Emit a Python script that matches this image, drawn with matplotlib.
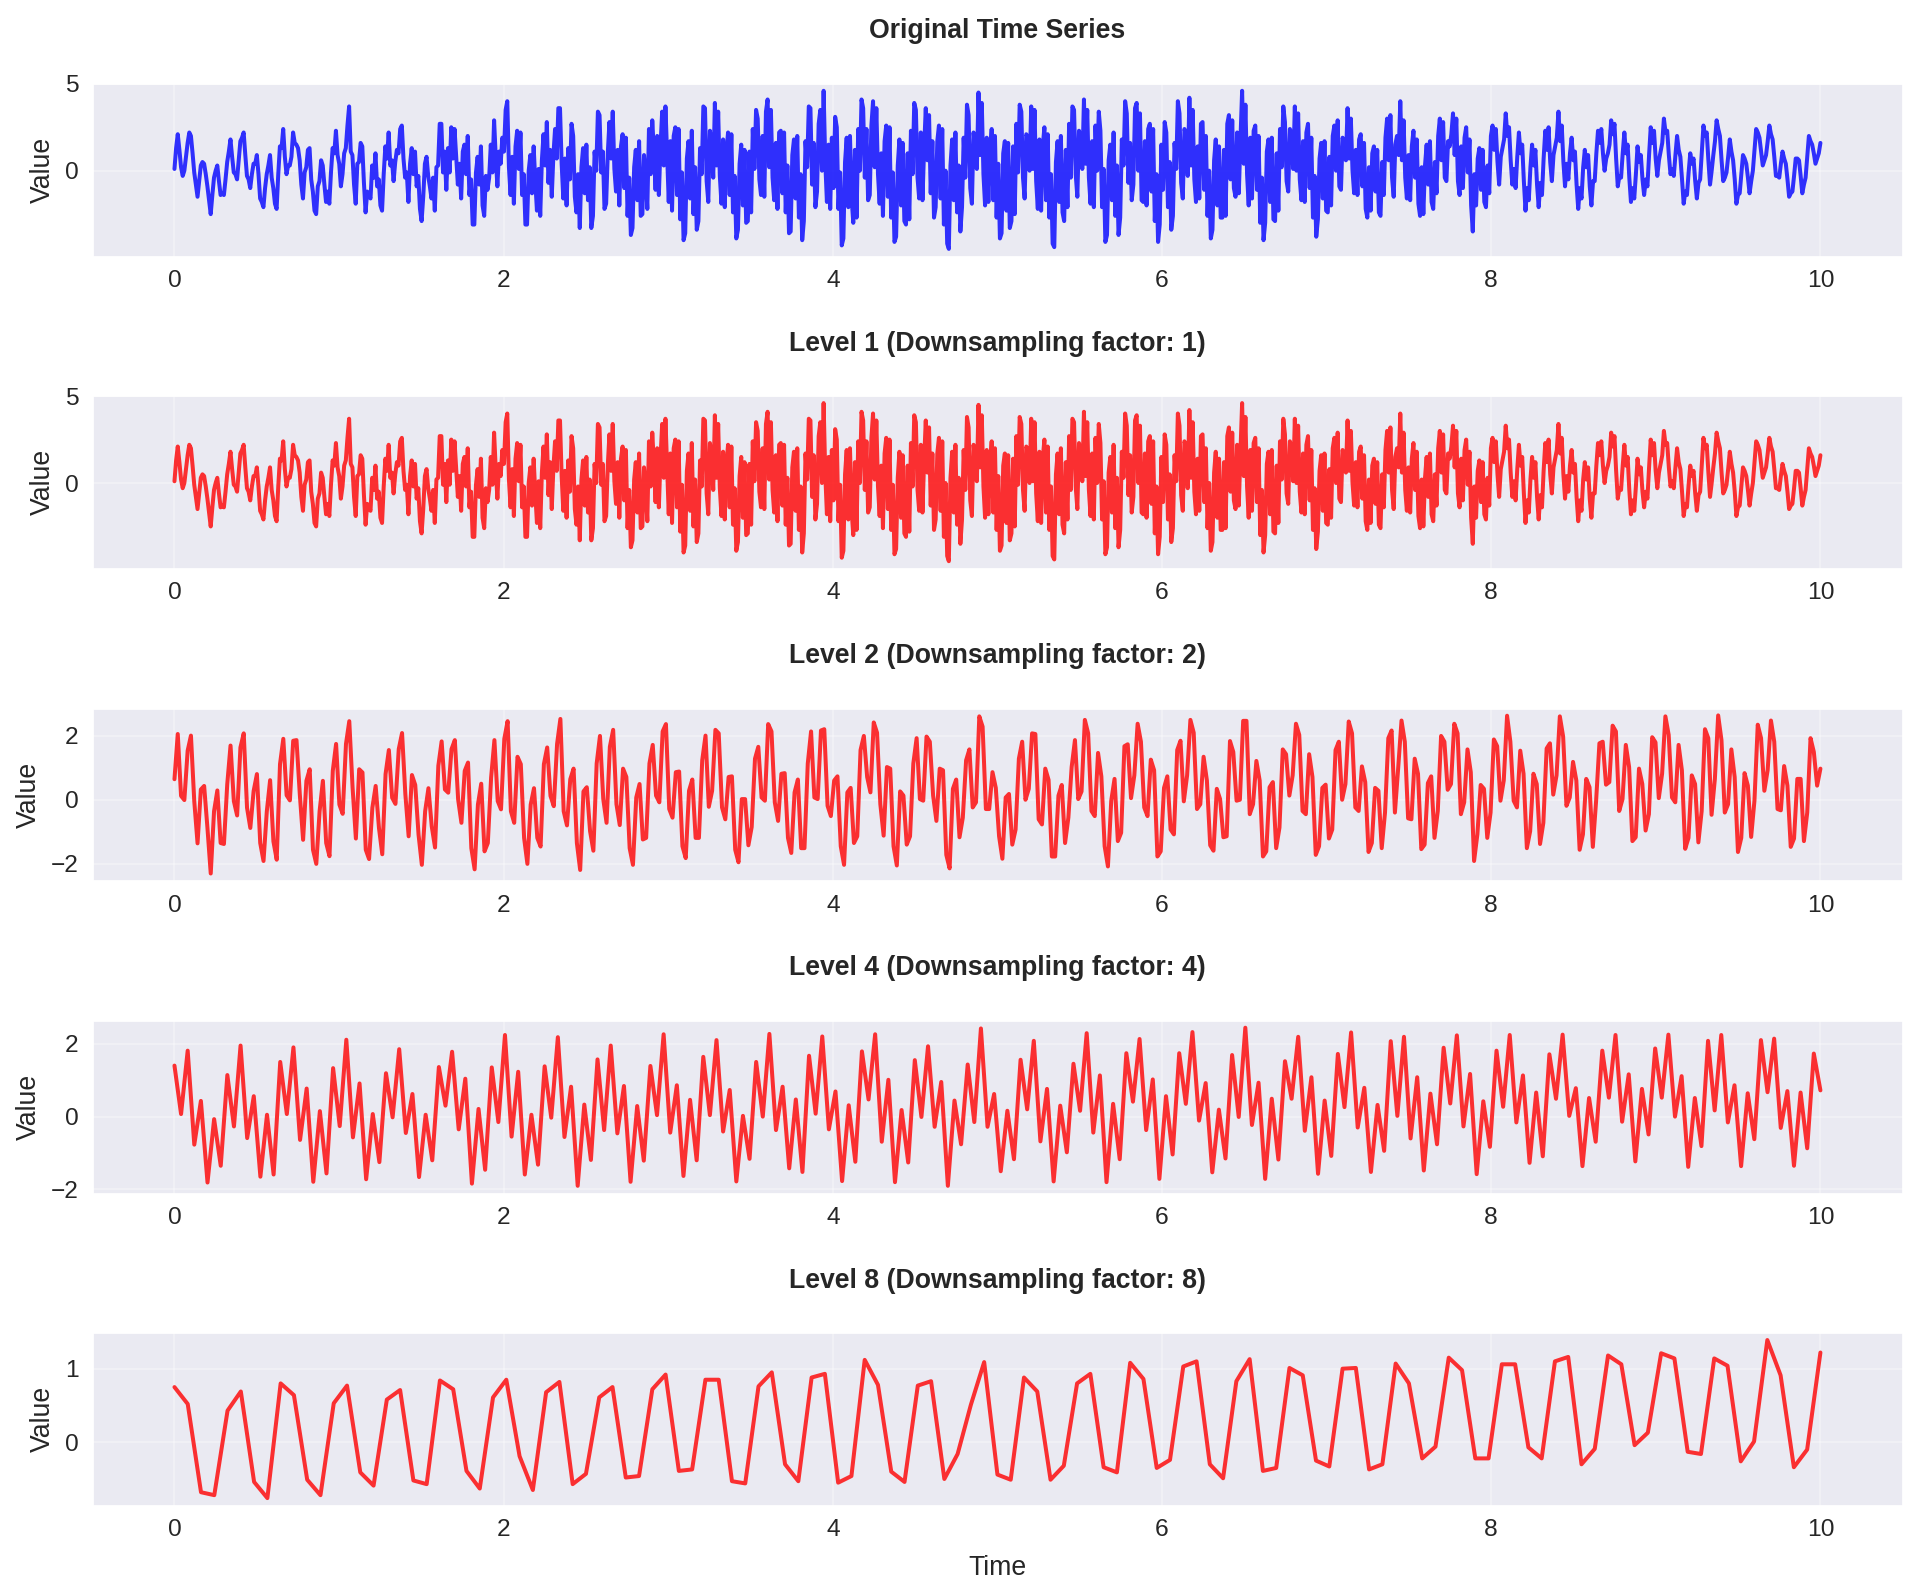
import numpy as np
import matplotlib
matplotlib.use("Agg")
import matplotlib.pyplot as plt
import seaborn as sns

# Original series (also shown as Level 1, downsampling factor 1)
original = [
    0.1, 1.3, 2.1, 1.2, 0.2, -0.3, 0.0, 0.8, 1.6, 2.2, 2.0, 1.0, -0.1, -0.8, -1.5, -0.6, 0.3, 0.5, 0.4, -0.2,
    -0.9, -1.7, -2.5, -1.4, -0.4, 0.0, 0.3, -0.6, -1.4, -1.3, -1.4, -0.5, 0.5, 1.1, 1.8, 0.8, -0.1, -0.2, -0.5, 0.6,
    1.7, 1.9, 2.2, 0.9, -0.3, -0.5, -1.0, -0.2, 0.4, 0.4, 0.9, -0.2, -1.6, -1.8, -2.1, -1.0, -0.2, 0.3, 0.9, -0.4,
    -1.0, -1.9, -2.2, -0.2, 1.4, 1.3, 2.4, 0.8, -0.2, 0.3, 0.3, 0.8, 2.2, 1.6, 1.5, 1.3, 0.6, -0.8, -1.6, -0.1,
    0.2, 1.2, 1.3, -0.5, -1.2, -2.3, -2.5, -0.9, -0.6, 0.6, 0.3, -0.8, -1.8, -1.2, -1.9, -0.1, 1.3, 1.0, 2.3, 0.9,
    0.4, -0.9, -0.2, 1.0, 1.3, 2.6, 3.7, 1.1, 0.9, -0.8, -1.9, 0.4, 0.5, 1.6, 1.4, -0.7, -2.4, -1.2, -1.4, -1.6,
    0.3, -0.4, 1.0, -0.9, -0.5, -2.0, -2.3, -0.2, 1.4, 0.7, 2.2, 0.3, 0.6, -0.6, 0.5, 1.2, 1.0, 2.4, 2.6, 0.7,
    -0.4, -0.1, -1.8, 0.4, 1.3, -0.2, 1.1, -0.9, -0.3, -2.2, -2.9, -1.5, 0.4, 0.8, -0.3, -0.9, -1.6, -0.4, -2.3, 0.2,
    0.3, 2.7, 2.7, -0.1, 1.1, -1.1, 1.3, -0.1, 2.5, 0.7, 2.4, 0.8, -0.8, 0.4, -1.6, 1.1, 1.5, -0.2, 2.0, -1.4,
    -0.5, -3.1, -3.1, -0.1, 0.8, -0.8, 1.4, -2.0, -2.6, -0.3, -1.1, -0.4, 1.5, -0.1, 2.9, 0.8, -0.9, 1.1, 0.4, 1.9,
    1.1, 3.5, 4.0, 0.2, -1.4, 0.8, -1.9, 1.4, 2.3, 0.1, 2.2, -1.4, -0.2, -3.1, -3.1, 0.0, 0.9, -1.3, 1.4, -0.6,
    -2.3, 0.1, -2.6, 0.6, 2.1, 0.3, 2.8, -0.7, 1.2, -1.5, 0.9, 2.4, 0.7, 3.6, 3.6, 0.4, -1.6, 0.7, -2.0, 1.3,
    -0.5, 2.7, 2.0, -1.5, -2.4, -0.2, -3.3, 0.2, 1.3, -1.3, 1.5, -1.7, 0.2, -3.3, -2.6, 1.1, 0.0, 3.4, 3.2, -0.1,
    1.1, -2.2, -1.9, 1.0, 2.8, 0.7, 3.4, 0.1, -1.2, 1.2, -2.0, 1.4, 2.1, -1.0, 1.9, -2.6, -0.4, -3.7, -3.3, 0.2,
    1.2, -1.7, 1.7, -2.6, -2.5, 0.9, -0.3, -2.2, 2.4, -0.2, 2.9, 1.1, -1.1, 2.0, -1.4, 1.4, 3.4, 0.3, 3.7, 1.0,
    -1.8, 1.7, -2.3, 2.0, 2.5, -1.4, 2.4, -2.8, -0.1, -4.0, -3.6, 0.7, 1.7, -1.6, 2.3, -2.5, 0.2, -3.4, -2.9, 1.3,
    -0.2, 3.7, 3.6, -0.6, -1.8, 2.3, 1.6, -0.4, 3.9, 0.3, 3.4, -0.3, -1.9, 1.8, -2.1, 1.1, 2.2, -1.4, 2.1, -2.4,
    -0.3, -3.9, -3.4, 0.4, 1.5, -2.0, 1.2, -3.0, -2.9, 1.1, -2.4, 2.4, 0.1, 3.5, 3.0, -0.5, -1.4, 2.0, -1.5, 3.4,
    4.1, 0.2, 3.5, -0.4, -1.7, 1.6, -2.2, 2.2, 2.3, -1.3, 2.2, -2.4, 0.3, -3.6, -3.5, 0.9, 1.8, -1.6, 2.0, -2.7,
    -0.2, -4.0, -2.9, 1.7, 0.2, 3.7, 3.6, -0.8, 1.6, -2.1, -1.2, 2.7, 3.5, 0.0, 4.6, 0.5, -1.8, 1.5, -2.2, 1.9,
    -1.0, 3.1, 2.5, -2.2, -0.1, -4.3, -3.9, 0.5, 1.9, -2.1, 2.0, -1.6, -3.0, 1.2, -2.7, 2.4, 0.0, 4.1, 3.6, -0.4,
    2.4, -1.7, -1.4, 2.6, 4.0, 0.2, 3.6, -0.2, -1.9, 1.0, -2.6, 1.7, 2.6, -1.5, 2.5, -2.7, -0.1, -4.1, -3.8, 0.3,
    1.8, -2.0, 1.6, -2.9, -3.1, 1.0, -2.8, 2.3, -0.2, 3.9, 3.5, -0.4, -1.6, 2.2, -1.7, 1.3, 3.6, 0.6, 3.2, -1.3,
    1.7, -2.7, -2.1, 1.7, 2.6, -1.6, 2.4, -3.1, 0.0, -4.2, -4.5, 0.3, 1.8, -1.7, 2.2, -2.4, 0.3, -3.5, -2.1, 1.9,
    -0.4, 3.8, 3.2, -1.0, -1.9, 2.2, 1.3, 0.1, 4.5, 0.9, 3.9, -0.2, -2.0, 1.9, -1.8, 1.0, 2.4, -1.7, 2.0, -2.7,
    0.4, -3.9, -3.6, 1.0, 1.7, -2.3, 1.6, -3.3, -2.9, 1.4, -2.5, 2.7, -0.1, 3.8, 3.4, -0.4, -1.6, 2.1, 1.9, 0.0,
    3.7, 0.1, 3.5, -0.6, -2.2, 1.8, -2.3, 1.4, 2.5, -1.7, 2.1, -2.7, -0.2, -4.2, -4.4, 0.5, 1.7, -1.8, 2.0, -2.4,
    -2.9, 1.2, -2.1, 2.7, -0.4, 3.7, 3.5, -0.2, -1.5, 2.3, 1.8, 0.1, 4.1, 0.4, 3.5, -0.4, -1.9, 1.7, -2.1, 2.6,
    0.0, 3.4, 2.3, -2.1, 0.1, -4.1, -3.7, 0.6, 1.5, -1.7, 2.2, -2.6, 0.3, -3.7, -2.7, 1.8, 0.3, 4.0, 3.3, -0.7,
    1.6, -1.7, -0.8, 3.6, 3.9, 0.0, 3.3, -1.7, -1.8, 1.7, -2.0, 2.4, 2.7, -1.2, 2.4, -2.9, -0.2, -4.1, -3.1, 1.5,
    -1.1, 2.8, 2.2, -2.1, 0.5, -3.4, -2.6, 1.6, 0.1, 4.0, 3.3, -0.7, -1.6, 2.4, 2.1, -0.3, 4.2, 0.3, 3.5, -0.5,
    -1.8, 1.4, -1.6, 2.7, 2.8, -1.1, 2.0, -2.6, 0.0, -3.9, -3.4, 0.6, 1.8, -2.0, 1.4, -2.7, -2.7, 1.2, -2.6, 2.7,
    3.2, -0.5, 2.9, -1.0, -1.5, 2.2, -1.3, 1.8, 4.6, 0.4, 3.8, -0.2, -2.0, 1.9, -1.6, 2.3, 2.6, -1.1, 2.0, -3.0,
    -0.4, -4.0, -3.0, 1.1, 1.8, -1.8, 1.9, -2.8, -2.9, 1.0, -2.3, 2.4, 0.2, 3.7, 2.8, -0.6, -1.2, 2.4, 2.1, 0.1,
    3.7, 0.0, 3.3, -0.5, -1.7, 1.7, -1.8, 2.2, 2.7, -1.0, 1.9, -2.7, -0.3, -3.8, -2.8, 0.7, 1.6, -1.6, 1.7, -2.3,
    -2.4, 0.8, -2.0, 2.0, 2.6, 0.0, 2.9, -0.9, -1.1, 1.9, 1.5, 0.6, 3.6, 0.7, 3.0, 0.0, -1.3, 1.2, -1.4, 1.8,
    2.1, -0.9, 1.6, -2.2, -2.7, 0.2, -2.3, 1.0, 1.4, -1.2, 1.2, -2.4, -2.6, 0.5, -1.4, 1.9, 3.0, 0.6, 3.2, -0.4,
    -1.5, 1.5, 2.0, 0.9, 4.0, 0.6, 2.9, -0.4, -1.6, 0.9, -1.7, 1.4, 2.3, -0.4, 1.8, -1.9, -2.6, 0.2, -2.5, 0.3,
    1.5, -0.8, 1.7, -1.8, -2.2, 0.5, -1.3, 2.0, 3.0, 0.6, 2.8, -0.4, -0.6, 1.7, 1.4, 2.1, 3.3, 0.9, 3.0, -0.6,
    -1.4, 1.4, -1.0, 1.9, 2.5, -0.1, 1.8, -2.0, -3.5, -0.2, -2.0, 0.7, 1.3, -1.1, 1.2, -1.8, -2.1, 0.3, -1.3, 2.0,
    2.6, 1.2, 2.4, 0.5, -0.8, 0.8, 1.3, 1.8, 3.3, 2.0, 2.5, 0.6, -0.8, 0.1, -1.0, 0.8, 2.2, 1.0, 1.5, -0.6,
    -2.3, -1.0, -1.7, 0.2, 1.5, 0.3, 1.2, -0.8, -2.1, -0.7, -1.4, 0.7, 2.3, 1.2, 2.5, 0.5, -0.6, 0.9, 1.4, 1.9,
    3.4, 1.7, 2.6, 0.5, -0.9, 0.4, -0.5, 1.0, 1.9, 0.6, 1.1, -0.8, -2.2, -1.0, -1.6, 0.2, 1.2, 0.2, 0.9, -0.9,
    -2.0, -0.6, -0.6, 1.0, 2.3, 1.6, 2.4, 1.0, 0.0, 0.7, 1.0, 1.5, 2.9, 2.1, 2.7, 0.7, -0.9, -0.3, -0.4, 1.0,
    2.2, 1.0, 1.5, -0.4, -1.8, -1.0, -1.6, -0.2, 1.4, 0.5, 0.9, -0.5, -1.4, -0.5, -0.9, 0.9, 2.5, 1.6, 2.3, 0.7,
    -0.3, 0.6, 1.1, 1.6, 3.0, 2.2, 2.3, 0.9, -0.2, 0.1, -0.3, 0.9, 2.0, 1.2, 0.8, -0.5, -1.9, -1.2, -1.4, -0.1,
    1.0, 0.4, 0.7, -0.6, -1.6, -0.7, -0.5, 1.0, 2.6, 2.0, 2.2, 0.6, -0.8, 0.0, 0.9, 1.7, 2.9, 2.4, 2.0, 0.6,
    -0.6, -0.4, -0.1, 0.8, 1.8, 1.1, 0.6, -0.5, -1.9, -1.4, -1.3, -0.2, 0.9, 0.7, 0.4, -0.4, -1.3, -0.6, 0.0, 1.2,
    2.4, 2.2, 1.9, 1.1, 0.3, 0.6, 0.9, 1.7, 2.6, 2.1, 1.8, 0.8, -0.3, -0.3, -0.4, 0.4, 1.1, 0.7, 0.4, -0.5,
    -1.5, -1.3, -1.2, -0.3, 0.7, 0.7, 0.6, -0.3, -1.3, -0.8, -0.4, 0.8, 2.0, 1.7, 1.5, 1.0, 0.4, 0.7, 1.0, 1.6,
]

level2 = [
    0.64, 2.05, 0.12, -0.01, 1.53, 2.00, -0.04, -1.36, 0.32, 0.43,
    -0.88, -2.30, -0.36, 0.29, -1.35, -1.38, 0.48, 1.69, -0.04, -0.49,
    1.63, 2.07, -0.25, -0.88, 0.27, 0.80, -1.35, -1.91, -0.36, 0.61,
    -1.30, -1.87, 1.11, 1.90, 0.14, -0.02, 1.84, 1.86, 0.17, -1.25,
    0.59, 0.95, -1.56, -2.00, -0.36, 0.59, -1.35, -1.76, 0.90, 1.74,
    -0.15, -0.44, 1.74, 2.45, 0.38, -1.21, 0.95, 0.85, -1.56, -1.85,
    -0.25, 0.43, -0.88, -1.70, 0.80, 1.55, 0.06, -0.13, 1.58, 2.08,
    0.17, -1.14, 0.77, 0.46, -1.09, -2.03, -0.36, 0.36, -0.83, -1.49,
    1.06, 1.82, 0.32, 0.22, 1.58, 1.86, 0.01, -0.72, 0.90, 1.16,
    -1.51, -2.17, -0.15, 0.50, -1.61, -1.35, 0.69, 1.86, -0.04, -0.30,
    1.90, 2.45, -0.36, -0.72, 1.34, 1.11, -1.19, -2.00, -0.15, 0.36,
    -1.19, -1.46, 1.11, 1.63, 0.12, -0.20, 1.74, 2.52, -0.36, -0.80,
    0.64, 0.97, -1.35, -2.19, 0.26, 0.39, -0.98, -1.59, 1.13, 1.99,
    0.02, -0.72, 1.65, 2.18, -0.14, -0.79, 0.97, 0.71, -1.51, -2.03,
    0.07, 0.49, -1.24, -1.19, 1.13, 1.71, 0.13, -0.08, 2.13, 2.36,
    -0.29, -0.56, 0.86, 0.88, -1.45, -1.82, 0.28, 0.63, -1.19, -1.19,
    1.23, 2.00, -0.22, 0.28, 2.18, 2.07, -0.24, -0.61, 0.71, 0.73,
    -1.56, -1.95, 0.02, 0.02, -1.42, -0.85, 1.28, 1.65, 0.07, -0.03,
    2.36, 2.13, -0.08, -0.66, 0.81, 0.83, -1.19, -1.66, 0.23, 0.63,
    -1.51, -1.51, 1.13, 2.13, 0.07, 0.02, 2.16, 2.20, -0.19, -0.51,
    0.60, 0.73, -1.45, -2.03, 0.23, 0.37, -1.35, -1.14, 1.55, 1.99,
    0.71, 0.23, 2.41, 2.09, -0.14, -1.12, 1.02, 0.97, -1.45, -2.05,
    0.26, 0.13, -1.40, -1.14, 1.13, 1.92, 0.02, -0.03, 1.97, 1.81,
    0.13, -0.66, 0.97, 0.92, -1.72, -2.14, 0.34, 0.63, -1.17, -0.56,
    1.23, 1.57, -0.24, -0.08, 2.60, 2.28, -0.29, -0.29, 0.86, 0.37,
    -1.14, -1.84, 0.07, 0.18, -1.40, -0.93, 1.28, 1.81, 0.00, 0.34,
    2.07, 2.05, -0.61, -0.77, 0.97, 0.62, -1.77, -1.77, 0.13, 0.46,
    -1.35, -0.56, 1.02, 1.86, 0.02, 0.26, 2.49, 2.07, -0.35, -0.51,
    1.46, 0.73, -1.45, -2.08, -0.03, 0.65, -1.29, -1.03, 1.67, 1.73,
    0.05, 0.76, 2.37, 1.81, -0.24, -0.51, 1.25, 0.92, -1.77, -1.61,
    0.37, 0.73, -0.93, -1.08, 1.55, 1.84, -0.05, 0.76, 2.49, 2.09,
    -0.29, -0.14, 1.34, 0.60, -1.42, -1.59, 0.34, 0.02, -1.17, -1.14,
    1.83, 1.49, -0.03, 0.00, 2.46, 2.46, -0.45, -0.14, 1.21, 0.60,
    -1.77, -1.61, 0.39, 0.55, -1.51, -0.87, 1.57, 1.42, 0.13, 0.76,
    2.37, 2.02, -0.35, -0.45, 1.42, 0.71, -1.72, -1.45, 0.37, 0.47,
    -1.21, -0.93, 1.55, 1.81, 0.00, 0.49, 2.44, 2.07, -0.24, -0.35,
    1.04, 0.55, -1.63, -1.35, 0.37, 0.28, -1.51, -0.40, 1.92, 2.16,
    -0.40, 1.00, 2.47, 1.81, -0.58, -0.61, 1.28, 0.81, -1.54, -1.40,
    0.52, 0.73, -1.19, -0.35, 1.99, 1.81, 0.31, 0.49, 2.37, 2.07,
    -0.45, -0.08, 1.57, 0.86, -1.91, -1.08, 0.46, 0.34, -1.19, -0.40,
    1.88, 1.67, -0.03, 0.60, 2.62, 1.81, -0.03, -0.24, 1.53, 0.81,
    -1.51, -0.98, 0.81, 0.49, -1.38, -0.72, 1.60, 1.76, 0.16, 0.76,
    2.60, 1.97, -0.19, 0.07, 1.18, 0.60, -1.56, -1.08, 0.65, 0.39,
    -1.47, -0.03, 1.76, 1.81, 0.47, 0.55, 2.31, 2.13, -0.35, 0.02,
    1.71, 1.02, -1.29, -1.17, 0.97, 0.49, -0.96, -0.45, 1.95, 1.79,
    0.05, 0.81, 2.60, 2.02, 0.07, -0.08, 1.71, 0.92, -1.53, -1.19,
    0.76, 0.49, -1.33, -0.35, 2.20, 1.92, -0.47, 0.65, 2.63, 1.86,
    -0.40, -0.14, 1.57, 0.71, -1.63, -1.19, 0.83, 0.44, -1.16, -0.03,
    2.34, 1.92, 0.28, 0.92, 2.47, 1.81, -0.29, -0.33, 1.05, 0.44,
    -1.47, -1.21, 0.65, 0.65, -1.29, -0.40, 1.92, 1.49, 0.44, 0.97,
]

level4 = [
    1.40, 0.07, 1.81, -0.77, 0.43, -1.81, -0.07, -1.35, 1.14, -0.27,
    1.95, -0.59, 0.56, -1.65, 0.05, -1.59, 1.50, 0.07, 1.90, -0.64,
    0.77, -1.79, 0.15, -1.56, 1.33, -0.26, 2.11, -0.57, 0.91, -1.72,
    0.07, -1.25, 1.19, -0.02, 1.85, -0.45, 0.62, -1.66, 0.05, -1.20,
    1.36, 0.30, 1.78, -0.35, 1.04, -1.84, 0.21, -1.46, 1.35, -0.15,
    2.24, -0.55, 1.23, -1.59, 0.05, -1.32, 1.38, -0.03, 2.18, -0.56,
    0.82, -1.90, 0.33, -1.19, 1.57, -0.37, 1.95, -0.46, 0.84, -1.79,
    0.29, -1.21, 1.39, 0.04, 2.26, -0.44, 0.86, -1.63, 0.46, -1.20,
    1.64, 0.04, 2.10, -0.41, 0.73, -1.78, 0.02, -1.16, 1.50, 0.00,
    2.27, -0.37, 0.82, -1.42, 0.47, -1.52, 1.67, 0.08, 2.20, -0.35,
    0.69, -1.77, 0.31, -1.24, 1.79, 0.47, 2.26, -0.69, 1.01, -1.80,
    0.18, -1.26, 1.55, -0.01, 1.93, -0.28, 0.95, -1.90, 0.44, -0.76,
    1.43, -0.15, 2.42, -0.28, 0.62, -1.50, 0.16, -1.17, 1.56, 0.20,
    2.08, -0.68, 0.76, -1.78, 0.30, -0.98, 1.45, 0.16, 2.29, -0.44,
    1.13, -1.80, 0.35, -1.17, 1.74, 0.41, 2.13, -0.37, 1.02, -1.71,
    0.56, -1.04, 1.74, 0.35, 2.32, -0.11, 0.92, -1.53, 0.19, -1.15,
    1.69, -0.01, 2.44, -0.23, 0.93, -1.71, 0.49, -1.18, 1.52, 0.49,
    2.19, -0.39, 1.08, -1.57, 0.44, -1.08, 1.72, 0.26, 2.31, -0.30,
    0.79, -1.52, 0.32, -0.94, 2.07, 0.02, 2.19, -0.60, 1.08, -1.48,
    0.63, -0.76, 1.89, 0.36, 2.23, -0.27, 1.17, -1.58, 0.42, -0.83,
    1.81, 0.27, 2.24, -0.16, 1.13, -1.27, 0.66, -1.09, 1.71, 0.49,
    2.25, 0.02, 0.78, -1.36, 0.51, -0.69, 1.81, 0.52, 2.24, -0.14,
    1.16, -1.23, 0.76, -0.49, 1.87, 0.52, 2.25, 0.00, 1.11, -1.38,
    0.51, -0.81, 2.08, 0.17, 2.24, -0.16, 0.86, -1.36, 0.64, -0.62,
    2.10, 0.67, 2.14, -0.31, 0.70, -1.35, 0.66, -0.87, 1.73, 0.72,
]

level8 = [
    0.75, 0.52, -0.68, -0.72, 0.43, 0.69, -0.54, -0.76, 0.80, 0.64,
    -0.51, -0.72, 0.53, 0.77, -0.41, -0.59, 0.58, 0.71, -0.52, -0.57,
    0.84, 0.72, -0.39, -0.63, 0.61, 0.85, -0.19, -0.65, 0.68, 0.82,
    -0.57, -0.43, 0.61, 0.75, -0.48, -0.46, 0.72, 0.92, -0.39, -0.37,
    0.85, 0.85, -0.53, -0.56, 0.76, 0.95, -0.30, -0.53, 0.88, 0.93,
    -0.55, -0.46, 1.12, 0.78, -0.40, -0.54, 0.77, 0.83, -0.50, -0.16,
    0.51, 1.09, -0.44, -0.51, 0.88, 0.69, -0.51, -0.32, 0.80, 0.93,
    -0.34, -0.41, 1.08, 0.86, -0.35, -0.24, 1.03, 1.10, -0.30, -0.49,
    0.83, 1.13, -0.39, -0.35, 1.01, 0.91, -0.25, -0.33, 1.00, 1.01,
    -0.37, -0.30, 1.07, 0.80, -0.22, -0.06, 1.15, 0.98, -0.22, -0.22,
    1.06, 1.06, -0.07, -0.22, 1.10, 1.16, -0.30, -0.09, 1.18, 1.06,
    -0.04, 0.13, 1.21, 1.14, -0.13, -0.16, 1.14, 1.04, -0.26, 0.01,
    1.39, 0.91, -0.34, -0.10, 1.22,
]

titles = [
    "Original Time Series",
    "Level 1 (Downsampling factor: 1)",
    "Level 2 (Downsampling factor: 2)",
    "Level 4 (Downsampling factor: 4)",
    "Level 8 (Downsampling factor: 8)",
]
series = [original, original, level2, level4, level8]
colors = ["blue", "red", "red", "red", "red"]

sns.set_theme(style="darkgrid")
plt.rcParams["font.family"] = ["Liberation Sans", "DejaVu Sans"]

fig, axes = plt.subplots(5, 1, figsize=(12, 9.9625), dpi=160)
for ax, s, c, title in zip(axes, series, colors, titles):
    t = np.linspace(0, 10, len(s))
    ax.plot(t, s, color=c, alpha=0.8, linewidth=1.8)
    ax.set_title(title, fontsize=12, fontweight="bold", pad=20)
    ax.set_ylabel("Value", fontsize=12)
    ax.tick_params(labelsize=11, length=0, pad=6)
    ax.grid(True, alpha=0.3)
axes[-1].set_xlabel("Time", fontsize=12, labelpad=6)

fig.subplots_adjust(left=0.048, right=0.991, top=0.948, bottom=0.0552, hspace=0.796)
fig.savefig("out.png", dpi=160)
